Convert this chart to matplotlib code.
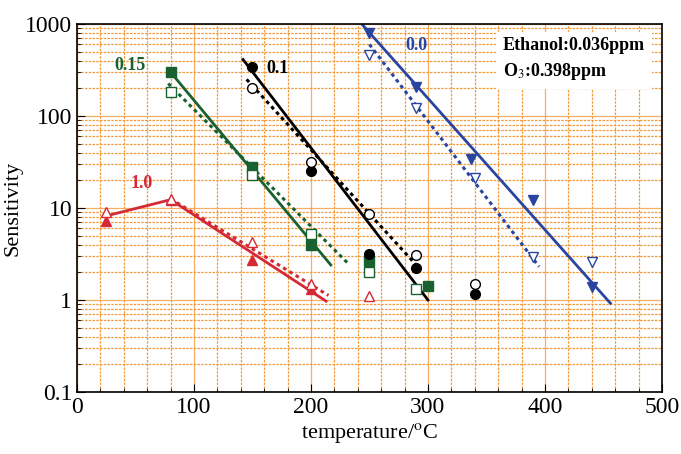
import numpy as np
from matplotlib import pyplot as plt
from matplotlib.ticker import LogLocator, MultipleLocator, FixedLocator

plt.rcParams['font.family'] = ['Liberation Serif', 'DejaVu Serif']
plt.rcParams['mathtext.fontset'] = 'stix'

# measured points (filled = solid markers, open = hollow markers)
t_red = [25, 80, 150, 200]
red_fill = [7.2, 12.3, 2.7, 1.32]
t_red_o = [25, 80, 150, 200, 250]
red_open = [9.0, 12.5, 4.3, 1.5, 1.1]

t_green = [80, 150, 200, 250, 300]
green_fill = [300, 28, 4.0, 2.65, 1.42]
t_green_o = [80, 150, 200, 250, 290]
green_open = [180, 23, 5.2, 2.0, 1.3]

t_black = [150, 200, 250, 290, 340]
black_fill = [340, 25, 3.2, 2.2, 1.15]
black_open = [200, 32, 8.5, 3.1, 1.5]

t_blue = [250, 290, 337, 390, 440]
blue_fill = [800, 207, 34, 12.2, 1.38]
t_blue_o = [250, 290, 340, 390, 440]
blue_open = [460, 122, 21, 2.9, 2.6]

# fitted lines (endpoints)
red_line_x = [25, 80, 213]
red_line_y = [8.2, 12.3, 0.97]
red_dot_x = [80, 215]
red_dot_y = [12.6, 1.12]
green_line_x = [80, 217]
green_line_y = [300, 2.4]
green_dot_x = [78, 231]
green_dot_y = [225, 2.55]
black_line_x = [142, 300]
black_line_y = [410, 1.0]
black_dot_x = [145, 290]
black_dot_y = [250, 2.4]
blue_line_x = [244, 456]
blue_line_y = [980, 0.92]
blue_dot_x = [250, 395]
blue_dot_y = [600, 2.3]

red = '#d42a35'
green = '#1a6130'
blue = '#2a45a0'
orange = '#f39a3c'

fig = plt.figure(figsize=(6.81, 4.54), dpi=100)
ax = fig.add_axes([0.113, 0.1366, 0.859, 0.8106])
ax.set_yscale('log')
ax.set_xlim(0, 500)
ax.set_ylim(0.1, 1000)

ax.xaxis.set_major_locator(MultipleLocator(100))
ax.xaxis.set_minor_locator(MultipleLocator(20))
ax.yaxis.set_major_locator(FixedLocator([0.1, 1, 10, 100, 1000]))
ax.yaxis.set_minor_locator(LogLocator(base=10, subs=np.arange(2, 10)))
ax.set_yticklabels(['0.1', '1', '10', '100', '1000'])
ax.yaxis.set_minor_formatter(plt.NullFormatter())

ax.grid(True, which='major', color=orange, lw=0.9, alpha=0.8)
ax.grid(True, which='minor', color=orange, lw=0.9, ls=(0, (2, 1)))
ax.set_axisbelow(True)

ax.tick_params(which='both', direction='in', top=False, right=False, labelsize=17)
ax.tick_params(which='major', length=6)
ax.tick_params(which='minor', length=3)
for s in ax.spines.values():
    s.set_linewidth(1.2)

# lines
ax.plot(red_line_x, red_line_y, color=red, lw=2)
ax.plot(red_dot_x, red_dot_y, color=red, lw=2.2, ls=(0, (1.2, 1.2)))
ax.plot(green_line_x, green_line_y, color=green, lw=2)
ax.plot(green_dot_x, green_dot_y, color=green, lw=2.2, ls=(0, (1.2, 1.2)))
ax.plot(black_line_x, black_line_y, color='black', lw=2)
ax.plot(black_dot_x, black_dot_y, color='black', lw=2.2, ls=(0, (1.2, 1.2)))
ax.plot(blue_line_x, blue_line_y, color=blue, lw=2)
ax.plot(blue_dot_x, blue_dot_y, color=blue, lw=2.2, ls=(0, (1.2, 1.2)))

# markers
ax.plot(t_red, red_fill, '^', color=red, ms=7, ls='none')
ax.plot(t_red_o, red_open, '^', mfc='white', mec=red, ms=7, ls='none')
ax.plot(t_green, green_fill, 's', color=green, ms=7, ls='none')
ax.plot(t_green_o, green_open, 's', mfc='white', mec=green, ms=7, ls='none')
ax.plot(t_black, black_fill, 'o', color='black', ms=7, ls='none')
ax.plot(t_black, black_open, 'o', mfc='white', mec='black', ms=7, ls='none')
ax.plot(t_blue, blue_fill, 'v', color=blue, ms=7, ls='none')
ax.plot(t_blue_o, blue_open, 'v', mfc='white', mec=blue, ms=7, ls='none')

# curve labels
ax.text(45, 355, '0.15', color=green, fontsize=13, fontweight='bold', ha='center', va='center')
ax.text(171, 330, '0.1', color='black', fontsize=13, fontweight='bold', ha='center', va='center')
ax.text(55, 18.5, '1.0', color=red, fontsize=13, fontweight='bold', ha='center', va='center')
ax.text(290, 590, '0.0', color=blue, fontsize=13, fontweight='bold', ha='center', va='center')

ax.text(0.728, 0.965, 'Ethanol:0.036ppm\nO$_3$:0.398ppm', transform=ax.transAxes,
        fontsize=13, fontweight='bold', ha='left', va='top', linespacing=1.5,
        bbox=dict(facecolor='white', edgecolor='none', pad=5))

ax.set_xlabel('temperature/$^{\\rm o}$C', fontsize=16, labelpad=2)
ax.set_ylabel('Sensitivity', fontsize=16, labelpad=2)

fig.savefig('out.png', dpi=100)
